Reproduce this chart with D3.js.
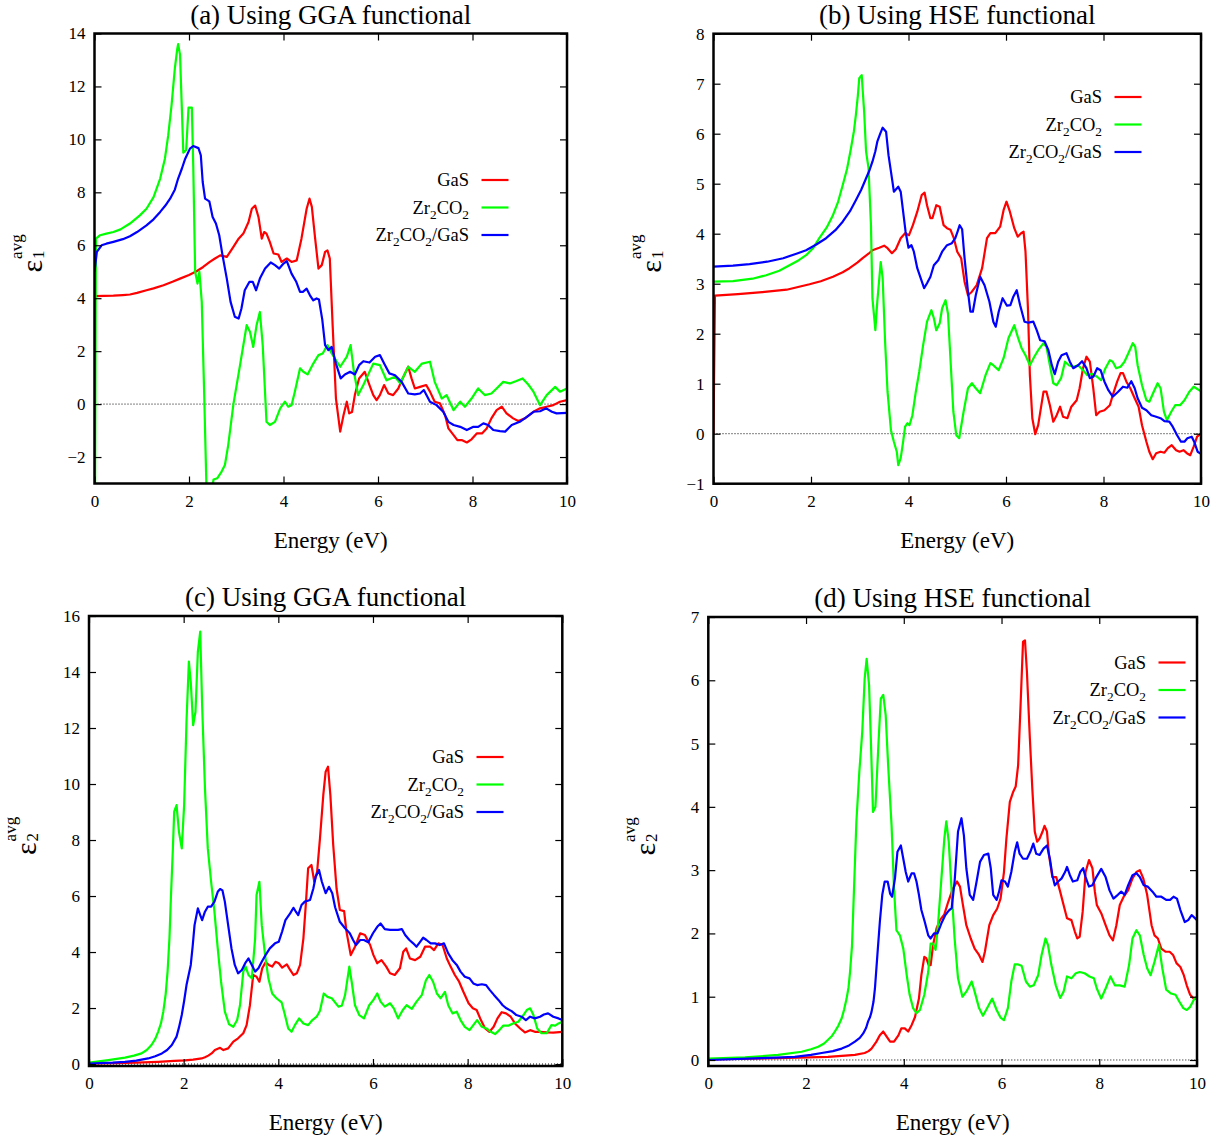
<!DOCTYPE html>
<html>
<head>
<meta charset="utf-8">
<script src="https://cdn.jsdelivr.net/npm/d3@7"></script>
<style>
  html, body { margin: 0; padding: 0; background: #fff; }
  svg { display: block; font-family: "Liberation Serif", "Times New Roman", serif; }
  svg text { font-family: "Liberation Serif", "Times New Roman", serif; }
</style>
</head>
<body>
<svg id="fig" width="1223" height="1139"></svg>
<script>
// ---------- data: [energy (eV), value] ----------
const energyTicks = [0, 2, 4, 6, 8, 10];
const seriesNames = ["GaS", "Zr2CO2", "Zr2CO2/GaS"];
const seriesColors = ["#ff0000", "#00ff00", "#0000ff"];

// (a) eps1, GGA
const aGaS = [[0,4.08],[0.2,4.09],[0.4,4.1],[0.6,4.12],[0.75,4.14],[0.9,4.2],[1.1,4.3],[1.25,4.37],[1.46,4.49],[1.65,4.62],[1.81,4.74],[2.0,4.88],[2.16,5.02],[2.3,5.18],[2.44,5.37],[2.55,5.5],[2.66,5.62],[2.8,5.56],[2.94,5.94],[3.05,6.25],[3.15,6.44],[3.26,6.88],[3.33,7.38],[3.4,7.5],[3.47,7.07],[3.54,6.25],[3.59,6.5],[3.64,6.44],[3.71,6.13],[3.79,5.69],[3.89,5.65],[3.96,5.37],[4.07,5.5],[4.17,5.37],[4.28,5.43],[4.38,6.25],[4.49,7.38],[4.55,7.76],[4.6,7.45],[4.67,6.25],[4.74,5.12],[4.81,5.25],[4.88,5.75],[4.93,5.81],[4.98,5.5],[5.04,2.98],[5.11,0.21],[5.2,-1.04],[5.27,-0.42],[5.34,0.09],[5.39,-0.35],[5.45,-0.3],[5.51,0.34],[5.6,0.97],[5.72,1.22],[5.82,0.72],[5.9,0.34],[5.97,0.15],[6.04,0.34],[6.13,0.72],[6.22,0.4],[6.32,0.34],[6.43,0.59],[6.52,0.97],[6.64,1.41],[6.71,0.97],[6.78,0.59],[6.89,0.65],[7.02,0.72],[7.1,0.47],[7.2,0.09],[7.31,0.03],[7.42,-0.42],[7.49,-0.92],[7.6,-1.17],[7.68,-1.36],[7.77,-1.36],[7.88,-1.45],[7.98,-1.33],[8.09,-1.11],[8.2,-1.11],[8.3,-0.92],[8.4,-0.54],[8.51,-0.23],[8.62,-0.1],[8.72,-0.35],[8.86,-0.54],[8.97,-0.64],[9.11,-0.54],[9.29,-0.29],[9.43,-0.16],[9.57,-0.1],[9.71,-0.04],[9.85,0.09],[10,0.15]];
const aZr2CO2 = [[0,-10],[0.03,6.25],[0.12,6.38],[0.25,6.44],[0.4,6.5],[0.55,6.6],[0.75,6.82],[0.96,7.13],[1.1,7.38],[1.25,7.82],[1.39,8.52],[1.49,9.27],[1.56,10.15],[1.63,11.28],[1.7,12.67],[1.75,13.4],[1.77,13.6],[1.81,13.2],[1.88,9.5],[1.94,9.6],[1.99,11.2],[2.06,11.2],[2.09,9.0],[2.13,5.0],[2.18,4.55],[2.22,5.0],[2.27,3.86],[2.32,0.47],[2.37,-3.2],[2.45,-3.6],[2.5,-3.05],[2.52,-2.85],[2.6,-2.8],[2.69,-2.55],[2.76,-2.3],[2.83,-1.55],[2.94,0],[3.08,1.47],[3.22,2.98],[3.29,2.73],[3.36,2.16],[3.43,2.98],[3.5,3.48],[3.56,2.23],[3.64,-0.67],[3.71,-0.79],[3.82,-0.67],[3.93,-0.16],[4.03,0.09],[4.1,-0.1],[4.17,-0.04],[4.24,0.47],[4.35,1.35],[4.42,1.22],[4.51,1.12],[4.63,1.53],[4.74,1.85],[4.83,1.91],[4.93,2.23],[5.02,1.91],[5.2,1.41],[5.34,1.79],[5.42,2.23],[5.49,1.22],[5.58,0.34],[5.69,0.72],[5.9,1.53],[6.04,1.47],[6.18,0.9],[6.36,1.03],[6.47,0.78],[6.64,1.41],[6.78,1.22],[6.93,1.53],[7.1,1.6],[7.2,0.84],[7.35,0.21],[7.45,0.34],[7.6,-0.23],[7.74,0.09],[7.84,-0.1],[7.98,0.21],[8.12,0.59],[8.26,0.34],[8.4,0.4],[8.51,0.59],[8.65,0.84],[8.79,0.78],[8.93,0.87],[9.06,0.97],[9.18,0.74],[9.29,0.47],[9.43,-0.04],[9.57,0.34],[9.75,0.65],[9.85,0.47],[10,0.59]];
const aZr2CO2GaS = [[0,5.0],[0.05,5.75],[0.15,6.0],[0.25,6.06],[0.4,6.13],[0.6,6.23],[0.75,6.34],[0.9,6.5],[1.1,6.75],[1.25,6.98],[1.39,7.26],[1.5,7.5],[1.6,7.76],[1.7,8.1],[1.77,8.52],[1.85,8.9],[1.92,9.27],[2.02,9.65],[2.09,9.75],[2.2,9.67],[2.25,9.4],[2.29,8.39],[2.34,7.76],[2.43,7.66],[2.5,7.07],[2.57,6.82],[2.64,6.38],[2.71,5.62],[2.8,4.74],[2.88,3.86],[2.97,3.3],[3.05,3.23],[3.11,3.61],[3.18,4.3],[3.28,4.62],[3.35,4.62],[3.42,4.3],[3.5,4.74],[3.61,5.12],[3.73,5.35],[3.82,5.25],[3.91,5.12],[4.0,5.31],[4.07,5.4],[4.17,4.93],[4.27,4.62],[4.35,4.24],[4.41,4.24],[4.49,4.36],[4.56,4.11],[4.63,3.92],[4.7,3.99],[4.75,3.95],[4.82,3.2],[4.88,2.23],[4.95,2.04],[5.02,2.16],[5.11,1.53],[5.21,0.97],[5.3,1.12],[5.41,1.22],[5.51,1.12],[5.6,1.47],[5.69,1.62],[5.82,1.57],[5.94,1.79],[6.04,1.85],[6.13,1.53],[6.24,1.16],[6.36,1.09],[6.5,0.84],[6.64,0.4],[6.78,0.37],[6.89,0.4],[6.97,0.53],[7.1,0.09],[7.24,-0.04],[7.38,-0.29],[7.49,-0.67],[7.6,-0.79],[7.74,-0.86],[7.88,-0.98],[8.02,-0.86],[8.12,-0.86],[8.23,-0.73],[8.33,-0.79],[8.44,-0.98],[8.58,-1.02],[8.69,-1.04],[8.83,-0.79],[9.0,-0.67],[9.15,-0.48],[9.29,-0.29],[9.43,-0.27],[9.56,-0.16],[9.68,-0.29],[9.78,-0.35],[10,-0.33]];

// (b) eps1, HSE
const bGaS = [[0,0],[0.03,2.76],[0.5,2.79],[1.0,2.83],[1.5,2.88],[1.97,2.99],[2.2,3.05],[2.45,3.14],[2.65,3.23],[2.79,3.31],[2.95,3.42],[3.06,3.51],[3.18,3.6],[3.26,3.67],[3.4,3.72],[3.5,3.76],[3.57,3.71],[3.66,3.61],[3.74,3.69],[3.84,3.91],[3.93,4.01],[4.01,3.97],[4.09,4.17],[4.18,4.44],[4.27,4.77],[4.33,4.82],[4.38,4.57],[4.45,4.31],[4.49,4.31],[4.57,4.57],[4.64,4.54],[4.72,4.17],[4.79,4.11],[4.86,4.08],[4.93,3.91],[5.0,3.64],[5.08,3.51],[5.15,3.04],[5.22,2.77],[5.3,2.84],[5.4,2.97],[5.51,3.31],[5.61,3.91],[5.68,4.01],[5.78,4.01],[5.88,4.14],[5.95,4.47],[6.01,4.64],[6.08,4.44],[6.17,4.11],[6.24,3.94],[6.31,4.01],[6.36,4.04],[6.4,3.64],[6.45,2.51],[6.49,1.17],[6.54,0.31],[6.6,-0.01],[6.66,0.17],[6.77,0.84],[6.83,0.84],[6.9,0.57],[6.97,0.24],[7.04,0.37],[7.11,0.54],[7.17,0.34],[7.26,0.31],[7.34,0.54],[7.45,0.67],[7.51,0.91],[7.58,1.31],[7.65,1.54],[7.72,1.44],[7.79,0.91],[7.85,0.37],[7.92,0.44],[8.02,0.47],[8.13,0.57],[8.19,0.77],[8.28,1.04],[8.35,1.21],[8.4,1.21],[8.47,1.04],[8.55,0.91],[8.64,0.71],[8.72,0.54],[8.79,0.17],[8.88,-0.16],[8.94,-0.36],[9.01,-0.51],[9.08,-0.39],[9.17,-0.36],[9.25,-0.38],[9.32,-0.29],[9.4,-0.23],[9.49,-0.33],[9.56,-0.36],[9.64,-0.33],[9.71,-0.39],[9.78,-0.43],[9.85,-0.26],[9.92,-0.06],[10,0]];
const bZr2CO2 = [[0,3.04],[0.4,3.05],[0.8,3.1],[1.08,3.17],[1.35,3.26],[1.56,3.37],[1.75,3.47],[1.9,3.57],[2.05,3.72],[2.17,3.91],[2.32,4.12],[2.45,4.37],[2.55,4.62],[2.65,4.97],[2.74,5.3],[2.82,5.71],[2.88,6.05],[2.92,6.37],[2.96,6.75],[2.99,7.11],[3.04,7.17],[3.09,6.44],[3.13,5.64],[3.18,5.31],[3.23,4.17],[3.26,2.71],[3.32,2.07],[3.36,2.64],[3.43,3.43],[3.47,3.11],[3.52,1.84],[3.57,0.84],[3.64,0.07],[3.7,-0.16],[3.76,-0.36],[3.79,-0.63],[3.84,-0.49],[3.89,-0.16],[3.93,0.14],[3.98,0.21],[4.02,0.17],[4.08,0.37],[4.15,0.84],[4.22,1.24],[4.3,1.77],[4.38,2.24],[4.47,2.47],[4.52,2.31],[4.57,2.07],[4.64,2.21],[4.69,2.51],[4.76,2.67],[4.81,2.4],[4.86,1.51],[4.92,0.44],[4.98,-0.03],[5.04,-0.09],[5.13,0.44],[5.22,0.91],[5.3,1.01],[5.38,0.91],[5.47,0.81],[5.58,1.17],[5.68,1.41],[5.74,1.37],[5.85,1.27],[5.95,1.51],[6.05,1.91],[6.17,2.17],[6.25,1.91],[6.32,1.71],[6.4,1.57],[6.49,1.37],[6.58,1.54],[6.66,1.67],[6.77,1.81],[6.83,1.74],[6.9,1.37],[6.97,1.01],[7.04,0.97],[7.13,1.11],[7.21,1.44],[7.29,1.37],[7.38,1.34],[7.48,1.37],[7.58,1.27],[7.67,1.17],[7.76,1.2],[7.87,1.14],[7.95,1.07],[8.04,1.31],[8.13,1.47],[8.19,1.44],[8.26,1.31],[8.35,1.34],[8.43,1.44],[8.51,1.61],[8.6,1.81],[8.65,1.74],[8.7,1.37],[8.79,0.97],[8.88,0.67],[8.94,0.64],[9.03,0.84],[9.11,1.01],[9.17,0.91],[9.24,0.44],[9.3,0.27],[9.39,0.44],[9.47,0.57],[9.57,0.57],[9.66,0.67],[9.76,0.84],[9.85,0.94],[10,0.85]];
const bZr2CO2GaS = [[0,3.34],[0.4,3.36],[0.74,3.39],[1.1,3.44],[1.43,3.51],[1.7,3.6],[1.9,3.67],[2.1,3.78],[2.31,3.91],[2.5,4.07],[2.65,4.24],[2.8,4.45],[2.92,4.67],[3.03,4.88],[3.13,5.11],[3.2,5.27],[3.26,5.44],[3.32,5.65],[3.36,5.84],[3.42,6.0],[3.47,6.12],[3.54,6.04],[3.59,5.57],[3.66,5.11],[3.7,4.84],[3.79,4.94],[3.84,4.84],[3.89,4.44],[3.94,4.04],[4.0,3.72],[4.06,3.77],[4.11,3.64],[4.18,3.31],[4.25,3.11],[4.32,2.91],[4.38,3.01],[4.45,3.14],[4.52,3.37],[4.61,3.47],[4.69,3.64],[4.79,3.77],[4.89,3.81],[4.96,3.91],[5.01,4.05],[5.05,4.17],[5.1,4.09],[5.15,3.51],[5.22,2.84],[5.27,2.44],[5.32,2.44],[5.38,2.77],[5.47,3.14],[5.56,2.97],[5.66,2.64],[5.74,2.24],[5.79,2.14],[5.85,2.44],[5.93,2.71],[6.02,2.56],[6.09,2.57],[6.15,2.74],[6.22,2.87],[6.29,2.57],[6.38,2.24],[6.46,2.22],[6.56,2.24],[6.63,2.07],[6.7,1.87],[6.79,1.85],[6.87,1.67],[6.94,1.37],[7.0,1.19],[7.07,1.44],[7.14,1.57],[7.24,1.61],[7.31,1.44],[7.38,1.31],[7.48,1.37],[7.56,1.45],[7.65,1.31],[7.72,1.11],[7.79,1.14],[7.87,1.31],[7.94,1.27],[8.02,1.04],[8.1,0.87],[8.19,0.74],[8.3,0.84],[8.4,0.94],[8.49,0.92],[8.57,1.05],[8.64,0.91],[8.7,0.71],[8.79,0.52],[8.88,0.47],[8.98,0.37],[9.08,0.34],[9.17,0.31],[9.25,0.25],[9.35,0.24],[9.42,0.14],[9.51,-0.03],[9.59,-0.16],[9.66,-0.16],[9.72,-0.09],[9.81,-0.06],[9.86,-0.16],[9.93,-0.36],[10,-0.4]];

// (c) eps2, GGA
const cGaS = [[0,0.01],[0.5,0.03],[1.0,0.05],[1.46,0.08],[1.8,0.11],[2.03,0.13],[2.2,0.16],[2.38,0.2],[2.45,0.24],[2.52,0.3],[2.59,0.38],[2.66,0.5],[2.77,0.58],[2.84,0.5],[2.94,0.56],[3.05,0.8],[3.15,0.92],[3.26,1.1],[3.33,1.39],[3.4,2.1],[3.47,3.18],[3.54,3.12],[3.6,2.94],[3.66,3.42],[3.73,3.63],[3.8,3.54],[3.87,3.48],[3.94,3.65],[4.01,3.6],[4.08,3.44],[4.18,3.56],[4.25,3.36],[4.32,3.18],[4.39,3.24],[4.46,3.54],[4.53,4.49],[4.58,5.68],[4.63,6.99],[4.7,7.11],[4.76,6.51],[4.82,6.87],[4.88,8.06],[4.95,9.6],[5.0,10.44],[5.05,10.62],[5.1,9.6],[5.16,7.82],[5.23,6.27],[5.3,5.5],[5.39,5.46],[5.44,4.73],[5.53,3.89],[5.62,4.19],[5.73,4.67],[5.83,4.61],[5.94,4.25],[6.01,3.89],[6.09,3.6],[6.18,3.71],[6.28,3.48],[6.36,3.24],[6.46,3.18],[6.57,3.42],[6.64,4.01],[6.7,4.13],[6.78,3.77],[6.89,3.71],[7.0,3.83],[7.1,4.19],[7.21,4.19],[7.29,4.07],[7.38,4.31],[7.47,4.25],[7.56,3.77],[7.64,3.48],[7.73,3.18],[7.82,2.94],[7.91,2.58],[8.02,2.17],[8.11,1.99],[8.19,1.93],[8.28,1.57],[8.37,1.27],[8.46,1.15],[8.55,1.33],[8.63,1.63],[8.72,1.85],[8.81,1.81],[8.91,1.69],[9.0,1.45],[9.11,1.27],[9.21,1.13],[9.32,1.21],[9.42,1.15],[9.53,1.15],[9.67,1.13],[9.81,1.12],[10,1.15]];
const cZr2CO2 = [[0,0.05],[0.41,0.14],[0.76,0.23],[0.95,0.3],[1.11,0.38],[1.22,0.5],[1.32,0.68],[1.4,0.9],[1.46,1.15],[1.52,1.45],[1.57,1.87],[1.62,2.5],[1.66,3.3],[1.7,4.5],[1.73,5.92],[1.77,7.6],[1.8,9.01],[1.85,9.25],[1.9,8.3],[1.96,7.7],[2.01,9.25],[2.06,12.23],[2.11,14.37],[2.15,13.65],[2.2,12.1],[2.25,12.58],[2.3,14.73],[2.35,15.44],[2.39,12.82],[2.45,9.85],[2.51,7.7],[2.58,6.51],[2.65,5.44],[2.72,4.13],[2.79,2.94],[2.87,1.87],[2.96,1.42],[3.05,1.33],[3.13,1.57],[3.19,2.1],[3.26,3.3],[3.31,3.48],[3.37,3.18],[3.44,3.06],[3.51,4.49],[3.54,6.04],[3.6,6.51],[3.65,4.96],[3.72,3.89],[3.79,3.06],[3.87,2.52],[3.96,2.35],[4.07,2.2],[4.14,1.75],[4.21,1.27],[4.28,1.15],[4.35,1.39],[4.44,1.63],[4.53,1.45],[4.63,1.39],[4.72,1.57],[4.81,1.69],[4.88,1.9],[4.96,2.52],[5.04,2.4],[5.13,2.35],[5.27,2.05],[5.34,2.08],[5.41,2.46],[5.5,3.48],[5.55,2.94],[5.62,2.1],[5.71,1.75],[5.81,1.63],[5.92,2.1],[6.01,2.29],[6.09,2.52],[6.16,2.23],[6.25,2.05],[6.36,2.17],[6.44,1.99],[6.53,1.63],[6.63,1.93],[6.71,2.1],[6.82,1.97],[6.92,2.23],[7.03,2.46],[7.12,3.0],[7.19,3.18],[7.27,2.94],[7.35,2.52],[7.43,2.35],[7.52,2.58],[7.59,2.1],[7.68,1.81],[7.77,1.87],[7.85,1.57],[7.94,1.33],[8.04,1.21],[8.12,1.39],[8.2,1.57],[8.3,1.33],[8.4,1.27],[8.49,1.15],[8.58,1.07],[8.67,1.21],[8.75,1.37],[8.86,1.37],[8.96,1.45],[9.07,1.51],[9.18,1.75],[9.25,1.93],[9.32,1.99],[9.39,1.75],[9.47,1.27],[9.56,1.1],[9.67,1.1],[9.77,1.39],[9.85,1.37],[9.92,1.45],[10,1.51]];
const cZr2CO2GaS = [[0,0.02],[0.5,0.05],[0.76,0.08],[1.0,0.12],[1.25,0.2],[1.4,0.28],[1.54,0.38],[1.65,0.5],[1.75,0.68],[1.85,0.98],[1.9,1.3],[1.96,1.75],[2.01,2.25],[2.06,2.82],[2.15,3.54],[2.19,4.2],[2.23,4.96],[2.3,5.56],[2.35,5.32],[2.39,5.14],[2.45,5.44],[2.51,5.62],[2.58,5.62],[2.65,5.8],[2.72,6.15],[2.77,6.25],[2.82,6.2],[2.87,5.8],[2.94,4.96],[3.01,4.13],[3.08,3.54],[3.15,3.24],[3.23,3.36],[3.3,3.6],[3.37,3.77],[3.44,3.54],[3.51,3.3],[3.58,3.42],[3.65,3.65],[3.73,3.89],[3.82,4.13],[3.93,4.31],[4.01,4.37],[4.08,4.73],[4.15,5.14],[4.25,5.38],[4.32,5.58],[4.37,5.44],[4.42,5.32],[4.49,5.68],[4.56,5.8],[4.67,5.86],[4.74,6.27],[4.79,6.69],[4.86,6.93],[4.92,6.51],[5.0,6.1],[5.07,6.33],[5.14,6.1],[5.2,5.6],[5.3,5.08],[5.41,4.85],[5.51,4.67],[5.58,4.43],[5.64,4.25],[5.73,4.43],[5.81,4.43],[5.9,4.35],[6.0,4.67],[6.09,4.9],[6.16,5.02],[6.25,4.82],[6.36,4.79],[6.46,4.79],[6.53,4.79],[6.61,4.82],[6.68,4.61],[6.77,4.43],[6.85,4.31],[6.92,4.19],[7.0,4.37],[7.06,4.51],[7.13,4.43],[7.22,4.31],[7.31,4.31],[7.41,4.25],[7.5,4.31],[7.59,3.95],[7.68,3.71],[7.77,3.54],[7.85,3.3],[7.94,3.12],[8.04,3.06],[8.12,2.88],[8.2,2.82],[8.3,2.85],[8.39,2.82],[8.47,2.64],[8.56,2.46],[8.65,2.29],[8.74,2.1],[8.82,1.99],[8.93,1.89],[9.03,1.75],[9.14,1.69],[9.23,1.57],[9.32,1.69],[9.42,1.63],[9.53,1.69],[9.61,1.77],[9.7,1.81],[9.81,1.69],[9.92,1.63],[10,1.57]];

// (d) eps2, HSE
const dGaS = [[0,0.01],[1.43,0.03],[2.45,0.05],[2.8,0.07],[3.0,0.08],[3.2,0.11],[3.28,0.14],[3.34,0.18],[3.44,0.29],[3.51,0.39],[3.58,0.45],[3.65,0.37],[3.72,0.29],[3.8,0.29],[3.89,0.39],[3.95,0.5],[4.02,0.5],[4.09,0.45],[4.16,0.55],[4.23,0.68],[4.31,0.97],[4.36,1.34],[4.42,1.63],[4.46,1.61],[4.51,1.5],[4.55,1.5],[4.6,1.82],[4.67,2.08],[4.74,2.21],[4.83,2.3],[4.91,2.5],[5.0,2.7],[5.09,2.82],[5.15,2.74],[5.21,2.45],[5.28,2.13],[5.37,1.92],[5.45,1.76],[5.54,1.66],[5.61,1.55],[5.66,1.71],[5.75,2.13],[5.83,2.29],[5.91,2.39],[5.98,2.55],[6.05,2.97],[6.1,3.5],[6.17,4.08],[6.24,4.24],[6.29,4.32],[6.34,4.66],[6.39,5.61],[6.44,6.61],[6.48,6.63],[6.52,6.13],[6.58,5.08],[6.63,4.29],[6.68,3.61],[6.73,3.45],[6.78,3.5],[6.84,3.61],[6.88,3.7],[6.93,3.61],[6.97,3.24],[7.04,2.89],[7.12,2.89],[7.2,2.66],[7.27,2.45],[7.34,2.24],[7.43,2.21],[7.5,2.03],[7.55,1.92],[7.6,1.95],[7.66,2.34],[7.72,2.97],[7.79,3.16],[7.86,3.03],[7.91,2.66],[7.95,2.45],[8.04,2.32],[8.13,2.13],[8.21,1.97],[8.28,1.89],[8.35,2.13],[8.42,2.45],[8.5,2.58],[8.59,2.68],[8.68,2.87],[8.76,2.97],[8.83,3.0],[8.9,2.87],[8.98,2.61],[9.07,2.13],[9.13,1.97],[9.2,1.92],[9.27,1.76],[9.36,1.71],[9.44,1.71],[9.51,1.66],[9.58,1.53],[9.66,1.47],[9.73,1.34],[9.79,1.18],[9.86,1.03],[9.93,0.97],[10,0.97]];
const dZr2CO2 = [[0,0.02],[0.75,0.04],[1.43,0.08],[1.91,0.13],[2.1,0.17],[2.25,0.21],[2.37,0.26],[2.45,0.32],[2.53,0.38],[2.59,0.45],[2.66,0.54],[2.73,0.66],[2.78,0.8],[2.83,0.97],[2.87,1.15],[2.9,1.39],[2.94,1.8],[2.97,2.45],[3.03,3.76],[3.09,4.55],[3.15,5.18],[3.2,6.03],[3.24,6.34],[3.29,5.92],[3.33,4.97],[3.37,3.92],[3.42,4.0],[3.48,4.97],[3.53,5.71],[3.58,5.77],[3.63,5.45],[3.68,4.66],[3.75,3.71],[3.8,2.71],[3.85,2.05],[3.92,1.97],[3.99,1.76],[4.06,1.34],[4.12,1.03],[4.19,0.82],[4.26,0.74],[4.33,0.79],[4.42,1.03],[4.5,1.39],[4.55,1.84],[4.6,1.84],[4.65,1.74],[4.7,2.13],[4.77,2.87],[4.83,3.5],[4.87,3.77],[4.92,3.45],[4.98,2.66],[5.04,1.92],[5.11,1.29],[5.2,1.0],[5.28,1.08],[5.39,1.24],[5.45,1.08],[5.54,0.82],[5.62,0.7],[5.72,0.84],[5.81,0.97],[5.9,0.79],[5.98,0.67],[6.05,0.63],[6.13,0.82],[6.2,1.24],[6.27,1.51],[6.34,1.51],[6.41,1.49],[6.5,1.24],[6.58,1.16],[6.66,1.18],[6.75,1.34],[6.82,1.66],[6.9,1.92],[6.95,1.82],[7.02,1.5],[7.11,1.18],[7.2,0.98],[7.27,1.08],[7.34,1.32],[7.43,1.29],[7.52,1.37],[7.6,1.39],[7.7,1.37],[7.8,1.32],[7.89,1.29],[7.95,1.13],[8.04,0.97],[8.13,1.13],[8.23,1.32],[8.32,1.18],[8.42,1.18],[8.52,1.16],[8.61,1.5],[8.68,1.92],[8.76,2.05],[8.83,1.97],[8.91,1.66],[8.98,1.45],[9.05,1.34],[9.13,1.55],[9.22,1.82],[9.29,1.45],[9.37,1.11],[9.47,1.05],[9.56,1.03],[9.64,0.92],[9.72,0.82],[9.79,0.79],[9.86,0.84],[9.95,0.97],[10,1.0]];
const dZr2CO2GaS = [[0,0.0],[1.09,0.03],[1.77,0.05],[2.1,0.08],[2.32,0.11],[2.55,0.14],[2.73,0.18],[2.88,0.23],[3.0,0.29],[3.1,0.35],[3.17,0.42],[3.23,0.51],[3.27,0.61],[3.31,0.68],[3.34,0.76],[3.38,0.92],[3.41,1.13],[3.46,1.66],[3.51,2.18],[3.56,2.61],[3.61,2.82],[3.67,2.82],[3.72,2.63],[3.76,2.58],[3.82,2.87],[3.87,3.29],[3.94,3.39],[3.99,3.18],[4.04,2.97],[4.09,2.82],[4.16,2.95],[4.21,2.95],[4.26,2.82],[4.31,2.61],[4.36,2.37],[4.43,2.18],[4.5,1.97],[4.55,1.92],[4.62,2.0],[4.69,2.0],[4.77,2.16],[4.85,2.29],[4.92,2.36],[4.98,2.4],[5.04,2.82],[5.11,3.61],[5.18,3.82],[5.23,3.55],[5.28,3.03],[5.35,2.61],[5.42,2.53],[5.49,2.82],[5.56,3.13],[5.64,3.24],[5.73,3.26],[5.78,3.03],[5.83,2.61],[5.9,2.53],[5.95,2.66],[6.0,2.84],[6.07,2.82],[6.13,2.74],[6.2,2.97],[6.27,3.29],[6.32,3.44],[6.37,3.26],[6.44,3.18],[6.52,3.18],[6.59,3.29],[6.65,3.42],[6.71,3.26],[6.78,3.24],[6.86,3.34],[6.93,3.39],[6.99,3.18],[7.04,2.92],[7.09,2.76],[7.16,2.82],[7.23,2.87],[7.3,2.97],[7.34,3.05],[7.4,2.92],[7.46,2.82],[7.55,2.84],[7.61,2.97],[7.67,3.03],[7.72,2.89],[7.79,2.74],[7.86,2.76],[7.94,2.89],[8.04,3.02],[8.13,2.89],[8.21,2.68],[8.29,2.55],[8.38,2.61],[8.45,2.66],[8.52,2.61],[8.59,2.76],[8.68,2.92],[8.76,2.95],[8.83,2.89],[8.91,2.76],[8.99,2.74],[9.09,2.66],[9.17,2.58],[9.27,2.58],[9.37,2.53],[9.45,2.53],[9.52,2.58],[9.59,2.55],[9.66,2.37],[9.75,2.18],[9.82,2.21],[9.89,2.29],[10,2.21]];

// y tick values per panel
const aYTicks = [-2, 0, 2, 4, 6, 8, 10, 12, 14];
const bYTicks = [-1, 0, 1, 2, 3, 4, 5, 6, 7, 8];
const cYTicks = [0, 2, 4, 6, 8, 10, 12, 14, 16];
const dYTicks = [0, 1, 2, 3, 4, 5, 6, 7];

// ---------- layout of the four panels ----------
const panels = [
  { id: "a", title: "(a) Using GGA functional", sub: "1",
    left: 94.5, right: 567, top: 33.5, bottom: 483.5, yDomain: [-3, 14], yTicks: aYTicks,
    series: [aGaS, aZr2CO2, aZr2CO2GaS], legend: { x: 469, y: 180 } },
  { id: "b", title: "(b) Using HSE functional", sub: "1",
    left: 713.5, right: 1201, top: 33.7, bottom: 483.7, yDomain: [-1, 8], yTicks: bYTicks,
    series: [bGaS, bZr2CO2, bZr2CO2GaS], legend: { x: 1102, y: 97 } },
  { id: "c", title: "(c) Using GGA functional", sub: "2",
    left: 89, right: 562.3, top: 616, bottom: 1066, yDomain: [-0.07, 16], yTicks: cYTicks,
    series: [cGaS, cZr2CO2, cZr2CO2GaS], legend: { x: 464, y: 757 } },
  { id: "d", title: "(d) Using HSE functional", sub: "2",
    left: 708.3, right: 1197, top: 617, bottom: 1066, yDomain: [-0.095, 7], yTicks: dYTicks,
    series: [dGaS, dZr2CO2, dZr2CO2GaS], legend: { x: 1146, y: 662.5 } }
];

const svg = d3.select("#fig");
const SERIF = "'Liberation Serif', 'Times New Roman', serif";
const fmt = v => (v < 0 ? "\u2212" + Math.abs(v) : String(v));
const TICK = 7;

// writes a chemical formula with subscript digits into a text element
function formula(textSel, str, size) {
  const parts = str.match(/[A-Za-z\/]+|\d+/g);
  let lowered = false;
  parts.forEach(p => {
    const isDigit = /^\d+$/.test(p);
    const t = textSel.append("tspan").text(p);
    if (isDigit) {
      t.attr("font-size", size * 0.72).attr("dy", lowered ? 0 : size * 0.28);
      lowered = true;
    } else {
      if (lowered) t.attr("dy", -size * 0.28);
      lowered = false;
    }
  });
}

panels.forEach(p => {
  const x = d3.scaleLinear().domain([0, 10]).range([p.left, p.right]);
  const y = d3.scaleLinear().domain(p.yDomain).range([p.bottom, p.top]);
  const g = svg.append("g").attr("class", "panel-" + p.id);

  const clipId = "clip-" + p.id;
  g.append("clipPath").attr("id", clipId)
    .append("rect")
    .attr("x", p.left).attr("y", p.top)
    .attr("width", p.right - p.left).attr("height", p.bottom - p.top);

  // zero reference line
  g.append("line")
    .attr("x1", p.left).attr("x2", p.right)
    .attr("y1", y(0)).attr("y2", y(0))
    .attr("stroke", "#000").attr("stroke-width", 1)
    .attr("stroke-dasharray", "1,2");

  // curves
  const line = d3.line().x(d => x(d[0])).y(d => y(d[1]));
  const curves = g.append("g").attr("clip-path", `url(#${clipId})`);
  p.series.forEach((s, i) => {
    curves.append("path")
      .datum(s)
      .attr("d", line)
      .attr("fill", "none")
      .attr("stroke", seriesColors[i])
      .attr("stroke-width", 2.2)
      .attr("stroke-linejoin", "round");
  });

  // inward ticks on all four sides
  const bottomAxis = d3.axisBottom(x).tickValues(energyTicks).tickSize(-TICK).tickPadding(11).tickFormat(fmt);
  const topAxis = d3.axisTop(x).tickValues(energyTicks).tickSize(-TICK).tickFormat("");
  const leftAxis = d3.axisLeft(y).tickValues(p.yTicks).tickSize(-TICK).tickPadding(9).tickFormat(fmt);
  const rightAxis = d3.axisRight(y).tickValues(p.yTicks).tickSize(-TICK).tickFormat("");

  const styleAxis = sel => {
    sel.attr("font-family", null).attr("font-size", null);
    sel.select(".domain").remove();
    sel.selectAll(".tick line").attr("stroke", "#000").attr("stroke-width", 1.2);
    sel.selectAll(".tick text")
      .style("font-family", SERIF)
      .style("font-size", "17px").attr("fill", "#000");
  };
  g.append("g").attr("transform", `translate(0,${p.bottom})`).call(bottomAxis).call(styleAxis);
  g.append("g").attr("transform", `translate(0,${p.top})`).call(topAxis).call(styleAxis);
  g.append("g").attr("transform", `translate(${p.left},0)`).call(leftAxis).call(styleAxis);
  g.append("g").attr("transform", `translate(${p.right},0)`).call(rightAxis).call(styleAxis);

  // frame
  g.append("rect")
    .attr("x", p.left).attr("y", p.top)
    .attr("width", p.right - p.left).attr("height", p.bottom - p.top)
    .attr("fill", "none").attr("stroke", "#000").attr("stroke-width", 2.5);

  const cx = (p.left + p.right) / 2;

  // title
  g.append("text")
    .attr("x", cx).attr("y", p.top - 10)
    .attr("text-anchor", "middle")
    .attr("font-size", 27)
    .text(p.title);

  // x-axis label
  g.append("text")
    .attr("x", cx).attr("y", p.bottom + 64)
    .attr("text-anchor", "middle")
    .attr("font-size", 23)
    .text("Energy (eV)");

  // y-axis label: epsilon with stacked subscript and "avg" superscript
  const cy = (p.top + p.bottom) / 2;
  const yl = g.append("g")
    .attr("transform", `translate(${p.left - 53},${cy + 14}) rotate(-90)`);
  const eps = yl.append("text").attr("x", 0).attr("y", 0)
    .attr("font-size", 30).text("\u03b5");
  const ew = eps.node().getComputedTextLength();
  yl.append("text").attr("x", ew + 1).attr("y", 2)
    .attr("font-size", 17).text(p.sub);
  yl.append("text").attr("x", ew + 1).attr("y", -20)
    .attr("font-size", 17).text("avg");

  // legend
  const lg = g.append("g");
  seriesNames.forEach((name, i) => {
    const ly = p.legend.y + i * 27.5;
    const t = lg.append("text")
      .attr("x", p.legend.x).attr("y", ly + 6)
      .attr("text-anchor", "end")
      .attr("font-size", 18.5);
    formula(t, name, 18.5);
    lg.append("line")
      .attr("x1", p.legend.x + 12.5).attr("x2", p.legend.x + 39.5)
      .attr("y1", ly).attr("y2", ly)
      .attr("stroke", seriesColors[i]).attr("stroke-width", 2.2);
  });
});
</script>
</body>
</html>
